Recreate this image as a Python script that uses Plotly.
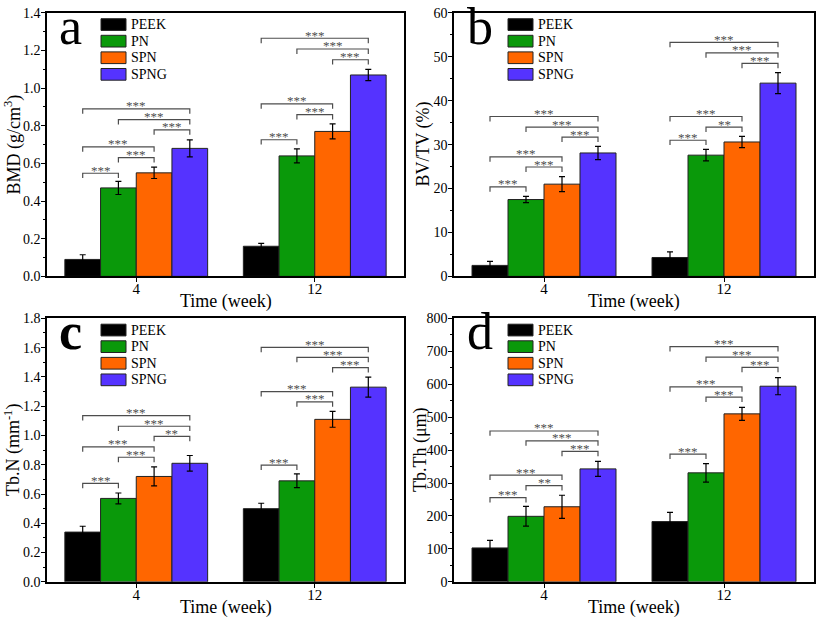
import plotly.graph_objects as go

groups = ["PEEK", "PN", "SPN", "SPNG"]
colors = ["#000000", "#0a990a", "#ff6600", "#5533ff"]
weeks = ["4", "12"]

# panel a: BMD
bmd_mean = [[0.09, 0.16], [0.47, 0.64], [0.55, 0.77], [0.68, 1.07]]
bmd_err = [[0.025, 0.015], [0.035, 0.037], [0.03, 0.04], [0.045, 0.03]]
bmd_sig = [(0, 0, 1, 0.548, "***"), (0, 1, 2, 0.631, "***"), (0, 0, 2, 0.688, "***"),
           (0, 2, 3, 0.778, "***"), (0, 1, 3, 0.833, "***"), (0, 0, 3, 0.89, "***"),
           (1, 0, 1, 0.726, "***"), (1, 1, 2, 0.859, "***"), (1, 0, 2, 0.916, "***"),
           (1, 2, 3, 1.151, "***"), (1, 1, 3, 1.208, "***"), (1, 0, 3, 1.265, "***")]

# panel b: BV/TV
bvtv_mean = [[2.5, 4.3], [17.5, 27.6], [21.0, 30.6], [28.1, 44.0]]
bvtv_err = [[0.9, 1.3], [0.7, 1.3], [1.7, 1.3], [1.5, 2.4]]
bvtv_sig = [(0, 0, 1, 20.4, "***"), (0, 1, 2, 24.9, "***"), (0, 0, 2, 27.2, "***"),
            (0, 2, 3, 31.7, "***"), (0, 1, 3, 34.0, "***"), (0, 0, 3, 36.4, "***"),
            (1, 0, 1, 31.0, "***"), (1, 1, 2, 34.0, "**"), (1, 0, 2, 36.4, "***"),
            (1, 2, 3, 48.5, "***"), (1, 1, 3, 50.9, "***"), (1, 0, 3, 53.3, "***")]

# panel c: Tb.N
tbn_mean = [[0.34, 0.50], [0.57, 0.69], [0.72, 1.11], [0.81, 1.33]]
tbn_err = [[0.04, 0.037], [0.037, 0.047], [0.065, 0.054], [0.053, 0.068]]
tbn_sig = [(0, 0, 1, 0.673, "***"), (0, 1, 2, 0.851, "***"), (0, 0, 2, 0.922, "***"),
           (0, 2, 3, 0.994, "**"), (0, 1, 3, 1.063, "***"), (0, 0, 3, 1.136, "***"),
           (1, 0, 1, 0.797, "***"), (1, 1, 2, 1.23, "***"), (1, 0, 2, 1.299, "***"),
           (1, 2, 3, 1.464, "***"), (1, 1, 3, 1.533, "***"), (1, 0, 3, 1.602, "***")]

# panel d: Tb.Th
tbth_mean = [[103, 183], [199, 331], [228, 510], [343, 594]]
tbth_err = [[23, 28], [30, 28], [35, 20], [23, 26]]
tbth_sig = [(0, 0, 1, 256, "***"), (0, 1, 2, 292, "**"), (0, 0, 2, 324, "***"),
            (0, 2, 3, 396, "***"), (0, 1, 3, 428, "***"), (0, 0, 3, 458, "***"),
            (1, 0, 1, 388, "***"), (1, 1, 2, 561, "***"), (1, 0, 2, 592, "***"),
            (1, 2, 3, 651, "***"), (1, 1, 3, 682, "***"), (1, 0, 3, 714, "***")]

panels = [
    dict(letter="a", bold=False, mean=bmd_mean, err=bmd_err, sig=bmd_sig, ymax=1.4, dtick=0.2,
         fmt=".1f", title="BMD (g/cm<sup>3</sup>)", xd=[47, 404], yd=[6, 276], ytx=13, lx=70),
    dict(letter="b", bold=False, mean=bvtv_mean, err=bvtv_err, sig=bvtv_sig, ymax=60, dtick=10,
         fmt="d", title="BV/TV (%)", xd=[454, 814], yd=[6, 276], ytx=424, lx=480),
    dict(letter="c", bold=True, mean=tbn_mean, err=tbn_err, sig=tbn_sig, ymax=1.8, dtick=0.2,
         fmt=".1f", title="Tb.N (mm<sup>-1</sup>)", xd=[47, 404], yd=[319, 589], ytx=13, lx=70),
    dict(letter="d", bold=False, mean=tbth_mean, err=tbth_err, sig=tbth_sig, ymax=800, dtick=100,
         fmt="d", title="Tb.Th (μm)", xd=[454, 814], yd=[319, 589], ytx=420, lx=480),
]

W, H = 817, 625
FONT = "Liberation Serif"
fig = go.Figure()
layout = dict(width=W, height=H, margin=dict(l=0, r=0, t=0, b=0),
              paper_bgcolor="white", plot_bgcolor="white",
              barmode="group", bargap=0.2, bargroupgap=0,
              font=dict(family=FONT, color="black"), showlegend=False)
shapes = []
annotations = []
bar_offsets = [-0.3, -0.1, 0.1, 0.3]

for p_i, p in enumerate(panels):
    n = p_i + 1
    xa = "x" if n == 1 else f"x{n}"
    ya = "y" if n == 1 else f"y{n}"
    pw = p["xd"][1] - p["xd"][0]
    ph = p["yd"][1] - p["yd"][0]
    for g_i, g in enumerate(groups):
        fig.add_trace(go.Bar(
            x=weeks, y=p["mean"][g_i], name=g, xaxis=xa, yaxis=ya,
            marker=dict(color=colors[g_i], line=dict(color="#222222", width=1)),
            error_y=dict(type="data", array=p["err"][g_i], color="black", thickness=1.2, width=3)))
        # legend entry (box + label) inside the panel
        yc = 1 - (12 + 17 * g_i) / ph
        shapes.append(dict(type="rect", xref=f"{xa} domain", yref=f"{ya} domain",
                           x0=54 / pw, x1=79 / pw, y0=yc - 6 / ph, y1=yc + 6 / ph,
                           fillcolor=colors[g_i], line=dict(color="#222222", width=1)))
        annotations.append(dict(xref=f"{xa} domain", yref=f"{ya} domain",
                                x=82 / pw, y=yc, xanchor="left", yanchor="middle",
                                showarrow=False, text=g,
                                font=dict(size=14, family=FONT, color="black")))
    xdom = [p["xd"][0] / W, p["xd"][1] / W]
    ydom = [(H - p["yd"][1]) / H, (H - p["yd"][0]) / H]
    axkey = "xaxis" if n == 1 else f"xaxis{n}"
    aykey = "yaxis" if n == 1 else f"yaxis{n}"
    layout[axkey] = dict(domain=xdom, anchor=ya, type="category", range=[-0.5, 1.5],
                         showline=True, linecolor="black", linewidth=1.5, mirror=True,
                         ticks="outside", ticklen=4, tickwidth=1.2, tickcolor="black",
                         ticklabelstandoff=-6,
                         tickfont=dict(size=15, family=FONT),
                         showgrid=False, zeroline=False)
    layout[aykey] = dict(domain=ydom, anchor=xa, range=[0, p["ymax"]], dtick=p["dtick"],
                         tickformat=p["fmt"],
                         showline=True, linecolor="black", linewidth=1.5, mirror=True,
                         ticks="outside", ticklen=4, tickwidth=1.2, tickcolor="black",
                         ticklabelstandoff=-2,
                         minor=dict(dtick=p["dtick"] / 2, ticks="outside", ticklen=2.5,
                                    tickwidth=1, tickcolor="black"),
                         tickfont=dict(size=14, family=FONT),
                         showgrid=False, zeroline=False)
    # axis titles
    annotations.append(dict(xref="paper", yref=f"{ya} domain", x=p["ytx"] / W, y=0.5,
                            xanchor="center", yanchor="middle", textangle=-90,
                            showarrow=False, text=p["title"],
                            font=dict(size=18, family=FONT, color="black")))
    annotations.append(dict(xref=f"{xa} domain", yref="paper", x=0.5,
                            y=(H - p["yd"][1] - 26) / H,
                            xanchor="center", yanchor="middle",
                            showarrow=False, text="Time (week)",
                            font=dict(size=18, family=FONT, color="black")))
    # panel letter
    annotations.append(dict(xref=f"{xa} domain", yref=f"{ya} domain",
                            x=(p["lx"] - p["xd"][0]) / pw,
                            y=1.065, xanchor="center", yanchor="top", showarrow=False,
                            text=f"<b>{p['letter']}</b>" if p["bold"] else p["letter"],
                            font=dict(size=52, family=FONT, color="black")))
    # significance brackets
    tick = 5 / ph * p["ymax"]
    for (w, g1, g2, yv, lab) in p["sig"]:
        x1 = w + bar_offsets[g1]
        x2 = w + bar_offsets[g2]
        shapes.append(dict(type="path", xref=xa, yref=ya,
                           path=f"M {x1},{yv - tick} L {x1},{yv} L {x2},{yv} L {x2},{yv - tick}",
                           line=dict(color="#4d4d4d", width=1.2)))
        annotations.append(dict(xref=xa, yref=ya, x=(x1 + x2) / 2, y=yv, text=lab,
                                showarrow=False, xanchor="center", yanchor="middle", yshift=3,
                                font=dict(size=13, family=FONT, color="#4d4d4d")))

layout["shapes"] = shapes
layout["annotations"] = annotations
fig.update_layout(**layout)
fig.write_html("out.html")
